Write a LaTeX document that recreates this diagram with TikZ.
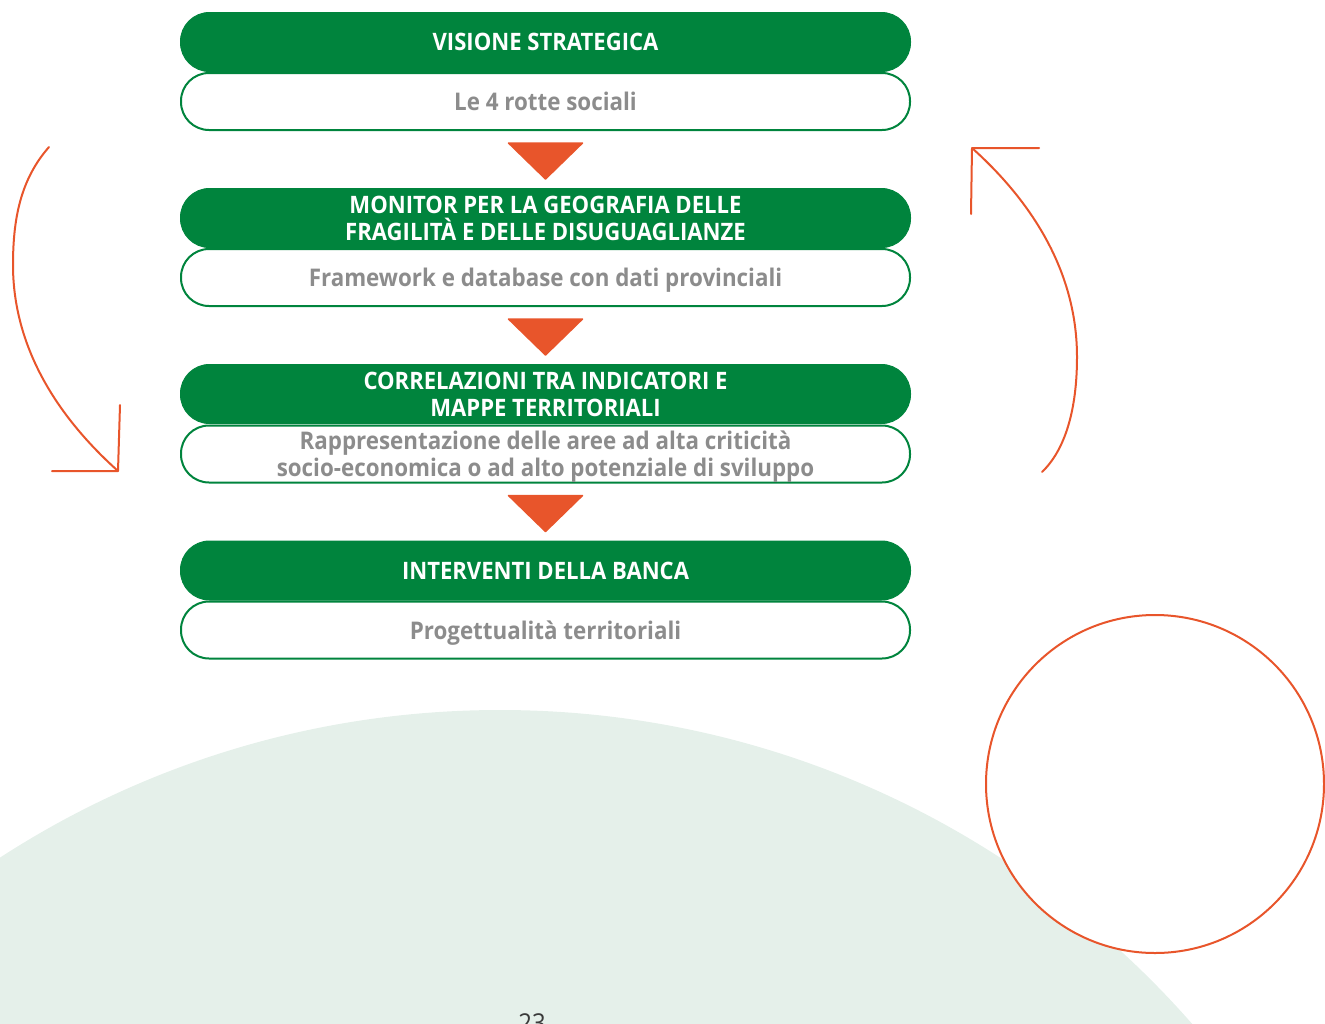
\documentclass[tikz,border=0pt]{standalone}
\usepackage{fontspec}
\setmainfont{Open Sans}[FakeStretch=0.92]
\usetikzlibrary{calc}
\definecolor{bgreen}{HTML}{00843D}
\definecolor{borange}{HTML}{E8552B}
\definecolor{mint}{HTML}{E5F0EA}
\definecolor{gtext}{HTML}{8C8C8C}
\definecolor{pnum}{HTML}{3A3A3A}
\begin{document}
\begin{tikzpicture}[x=1pt,y=-1pt,
  head/.style={rectangle, rounded corners=29pt, fill=bgreen, draw=bgreen, line width=1pt,
    minimum width=730pt, minimum height=59pt, inner sep=0pt, text=white, align=center,
    font=\fontsize{24}{27}\selectfont\bfseries},
  sub/.style={rectangle, rounded corners=28pt, fill=white, draw=bgreen, line width=2pt,
    minimum width=729pt, minimum height=57pt, inner sep=0pt, text=gtext, align=center,
    text depth=0pt, font=\fontsize{24.3}{27}\selectfont\bfseries},
  tri/.style={fill=borange, draw=borange, line width=1.5pt, line join=round},
  swoosh/.style={draw=borange, line width=2pt, line cap=round, line join=round}
]
\useasboundingbox (0,0) rectangle (1325,1023);
\clip (0,0) rectangle (1325,1023);

% background
\fill[mint] (500,1630) circle[radius=920pt];
\node[anchor=base, text=pnum, font=\fontsize{26}{26}\selectfont] (pg) at (532,1032) {23};
\draw[borange, line width=2pt, fill=white] (1155,784) circle[radius=169pt];

% boxes
\node[sub]  (s1) at (545.5,101.5) {Le 4 rotte sociali};
\node[head] (h1) at (545.5,42)    {VISIONE STRATEGICA};
\node[sub]  (s2) at (545.5,277.5) {Framework e database con dati provinciali};
\node[head] (h2) at (545.5,218)   {MONITOR PER LA GEOGRAFIA DELLE\\FRAGILITÀ E DELLE DISUGUAGLIANZE};
\node[sub]  (s3) at (545.5,454)   {Rappresentazione delle aree ad alta criticità\\socio-economica o ad alto potenziale di sviluppo};
\node[head] (h3) at (545.5,394)   {CORRELAZIONI TRA INDICATORI E\\MAPPE TERRITORIALI};
\node[sub]  (s4) at (545.5,630)   {Progettualità territoriali};
\node[head] (h4) at (545.5,570.5) {INTERVENTI DELLA BANCA};

% triangles between stages
\foreach \a in {s1,s2,s3}{
  \filldraw[tri] ($(\a.south)+(-37,12)$) -- ($(\a.south)+(37,12)$) -- ($(\a.south)+(0,48)$) -- cycle;
}

% side arrows
\coordinate (la) at (49,147);
\coordinate (lb) at (118,471);
\draw[swoosh] (la) .. controls (20,180) and (13,220) .. (13,265) .. controls (13,340) and (50,410) .. (lb);
\draw[swoosh] (120,405) -- (lb) -- (52,471);

\coordinate (ra) at (1042,472);
\coordinate (rb) at (972,148);
\draw[swoosh] (ra) .. controls (1065,450) and (1077,410) .. (1077,357) .. controls (1077,270) and (1030,200) .. (rb);
\draw[swoosh] (971,214) -- (rb) -- (1039,148);
\end{tikzpicture}
\end{document}
